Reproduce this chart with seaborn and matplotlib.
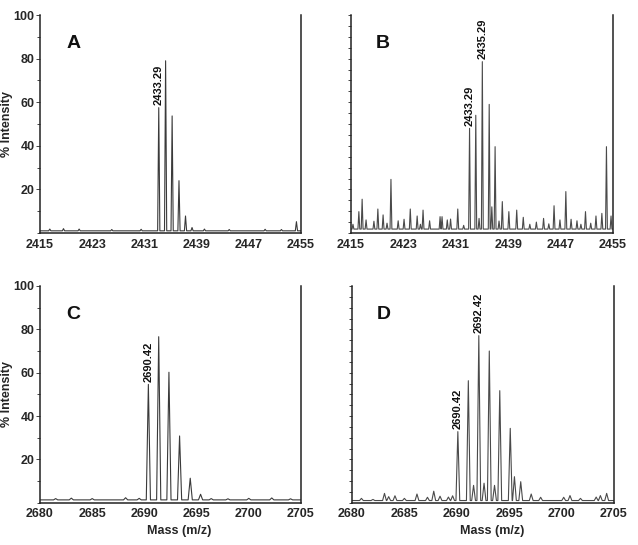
import numpy as np
import pandas as pd
import matplotlib
matplotlib.use("Agg")
import matplotlib.pyplot as plt
import seaborn as sns
from matplotlib.ticker import MultipleLocator

sns.set_theme(style="white")
plt.rcParams['font.family'] = ['Liberation Sans', 'DejaVu Sans']

# ---------------- data (peak centre m/z, % intensity) ----------------
# Panel A
a_mass = [2433.2, 2434.25, 2435.25, 2436.3, 2437.3, 2438.3, 2454.3,
          2416.5, 2418.6, 2421.0, 2426.0, 2430.5, 2440.2, 2444.0, 2449.5, 2452.0]
a_int = [57.5, 79.0, 53.7, 24.0, 7.8, 2.5, 5.2,
         1.8, 2.0, 1.8, 1.6, 1.7, 1.8, 1.6, 1.7, 1.6]
a_base = 1.0

# Panel B
b_mass = [2433.1, 2434.05, 2435.05, 2436.1, 2437.0, 2438.1, 2439.1, 2440.3,
          2415.3, 2416.2, 2416.7, 2417.3, 2418.5, 2419.1, 2419.9, 2421.1, 2422.2,
          2423.1, 2424.05, 2425.1, 2426.0, 2427.0, 2428.6, 2428.9, 2429.7, 2430.2,
          2431.3, 2434.55, 2436.5, 2441.3, 2442.3, 2443.3, 2444.4, 2446.0, 2446.9,
          2447.8, 2448.6, 2449.5, 2450.8, 2451.6, 2452.4, 2453.3, 2454.0, 2454.7,
          2420.5, 2425.6, 2432.2, 2437.6, 2445.2, 2450.1]
b_int = [48.0, 54.0, 78.6, 59.0, 39.6, 14.4, 9.8, 10.5,
         4.0, 9.8, 15.5, 6.0, 5.4, 11.0, 8.3, 24.6, 5.6,
         6.3, 11.0, 7.8, 10.5, 5.6, 7.5, 7.5, 6.0, 6.4,
         11.0, 6.7, 12.0, 7.2, 4.0, 5.0, 6.7, 12.5, 6.0,
         19.0, 6.3, 5.6, 9.8, 4.5, 7.8, 9.0, 39.6, 7.8,
         4.5, 4.0, 3.5, 5.5, 4.2, 4.0]
b_base = 1.8

# Panel C
c_mass = [2690.38, 2691.37, 2692.35, 2693.37, 2694.39, 2695.38, 2696.4,
          2681.5, 2683.0, 2685.0, 2688.2, 2689.5, 2698.0, 2700.0, 2702.2, 2704.0]
c_int = [54.6, 76.6, 60.2, 30.8, 11.3, 3.9, 1.9,
         1.9, 2.1, 1.9, 2.3, 2.0, 1.8, 2.0, 2.2, 1.8]
c_base = 1.3

# Panel D
d_mass = [2690.1, 2691.1, 2692.1, 2693.1, 2694.1, 2695.1, 2696.1, 2697.1,
          2680.9, 2682.0, 2683.1, 2683.5, 2684.1, 2685.0, 2686.2, 2687.2, 2687.8,
          2688.4, 2689.2, 2689.6, 2695.5, 2698.0, 2700.2, 2700.8, 2701.8, 2703.3,
          2703.7, 2704.3, 2691.6, 2692.6, 2693.6]
d_int = [32.8, 56.3, 77.1, 70.0, 51.7, 34.3, 9.7, 4.0,
         2.0, 1.5, 4.3, 2.8, 3.2, 2.0, 4.0, 2.5, 5.3,
         3.0, 2.6, 3.2, 12.0, 2.5, 2.5, 3.3, 2.0, 2.6,
         3.3, 4.3, 8.0, 9.0, 8.0]
d_base = 1.0

panel_letters = ["A", "B", "C", "D"]
xlims = [(2415, 2455), (2415, 2455), (2680, 2705), (2680, 2705)]
xticks_ab = [2415, 2423, 2431, 2439, 2447, 2455]
xticks_cd = [2680, 2685, 2690, 2695, 2700, 2705]
yticks_ac = [20, 40, 60, 80, 100]
annot = [
    [(2433.2, 57.5, "2433.29")],
    [(2433.1, 48.0, "2433.29"), (2435.05, 78.6, "2435.29")],
    [(2690.38, 54.6, "2690.42")],
    [(2690.1, 32.8, "2690.42"), (2692.1, 77.1, "2692.42")],
]

def profile(mass, inten, base, xlim, width):
    xs = [xlim[0], xlim[1]]
    ys = [base, base]
    for m, h in zip(mass, inten):
        xs += [m - width, m, m + width]
        ys += [base, h, base]
    df = pd.DataFrame({"mz": xs, "I": ys}).sort_values("mz", kind="mergesort")
    return df

fig = plt.figure(figsize=(6.38, 5.45), dpi=100)
pos = [
    [40/638, 1-233/545, 261/638, 218/545],
    [351/638, 1-233/545, 262/638, 218/545],
    [40/638, 1-502.7/545, 261/638, 216.7/545],
    [352/638, 1-502.7/545, 262/638, 216.7/545],
]
datasets = [(a_mass, a_int, a_base, 0.17), (b_mass, b_int, b_base, 0.14),
            (c_mass, c_int, c_base, 0.2), (d_mass, d_int, d_base, 0.18)]
lcs = ["#3a3a3a", "#4a4a4a", "#3a3a3a", "#4a4a4a"]
for i in range(4):
    ax = fig.add_axes(pos[i])
    mass, inten, base, w = datasets[i]
    df = profile(mass, inten, base, xlims[i], w)
    sns.lineplot(data=df, x="mz", y="I", ax=ax, sort=False, estimator=None,
                 color=lcs[i], lw=0.8)
    ax.set_xlim(*xlims[i])
    ax.set_ylim(0, 100)
    ax.spines["top"].set_visible(False)
    for s in ["left", "bottom", "right"]:
        ax.spines[s].set_visible(True)
        ax.spines[s].set_color("#222222")
        ax.spines[s].set_linewidth(1.1)
    ax.set_xticks(xticks_ab if i < 2 else xticks_cd)
    ax.tick_params(axis="x", length=2, width=0.6, pad=2, labelsize=9)
    for t in ax.get_xticklabels():
        t.set_fontweight("bold")
    ax.tick_params(axis="y", which="both", left=True, right=False, direction="out")
    if i in (0, 2):
        ax.set_yticks(yticks_ac)
        ax.yaxis.set_minor_locator(MultipleLocator(10))
        ax.tick_params(axis="y", which="major", length=3, width=0.6, pad=1, labelsize=9)
        ax.tick_params(axis="y", which="minor", length=2, width=0.6)
        for t in ax.get_yticklabels():
            t.set_fontweight("bold")
        ax.set_ylabel("% Intensity", fontsize=9, fontweight="bold")
        ax.yaxis.set_label_coords(-0.105, 0.5)
    else:
        ax.set_yticks([])
        ax.yaxis.set_minor_locator(MultipleLocator(5))
        ax.tick_params(axis="y", which="minor", length=2, width=0.6)
        ax.set_ylabel("")
    if i >= 2:
        ax.set_xlabel("Mass (m/z)", fontsize=9, fontweight="bold")
        ax.xaxis.set_label_coords(0.535, -0.105)
    else:
        ax.set_xlabel("")
    ax.text(0.1 if i in (0, 2) else 0.095, 0.83, panel_letters[i], transform=ax.transAxes,
            fontsize=14, fontweight="bold", ha="left", va="bottom", color="#111111")
    for (mx, my, lab) in annot[i]:
        ax.text(mx, my + 1.0, lab, rotation=90, ha="center", va="bottom",
                fontsize=8, fontweight="bold", color="#111111")
    ax.grid(False)

fig.savefig("out.png", dpi=100)
